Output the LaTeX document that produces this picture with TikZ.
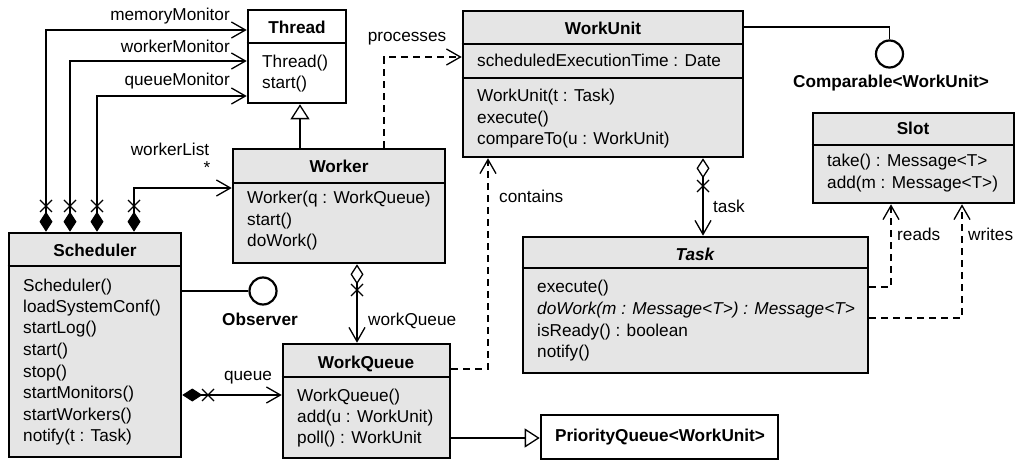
\documentclass[tikz,border=0pt]{standalone}
\usepackage{fontspec}
\setmainfont{Liberation Sans}
\usetikzlibrary{arrows.meta,fit,calc}
\begin{document}
\begin{tikzpicture}[x=1pt,y=-1pt,
  font=\fontsize{17.2}{21.5}\selectfont,
  cls/.style={draw, line width=2.6pt, inner sep=0pt, fill=gray!20},
  wcls/.style={cls, fill=white},
  sep/.style={line width=1.1pt},
  hd/.style={font=\fontsize{17.2}{21.5}\selectfont\bfseries, inner sep=0pt, text height=12pt, text depth=4pt},
  mt/.style={anchor=west, inner sep=0pt, text height=12pt, text depth=4pt},
  lbl/.style={inner sep=0pt, text height=12pt, text depth=4pt},
  conn/.style={line width=1.3pt},
  dsh/.style={conn, dash pattern=on 7pt off 5pt},
  comp/.style={conn, {Diamond[length=20pt,width=13pt]}-{Straight Barb[length=14pt,width=16pt]}},
  aggr/.style={conn, {Diamond[open,length=20pt,width=13pt]}-{Straight Barb[length=14pt,width=16pt]}},
  dep/.style={dsh, -{Straight Barb[length=14pt,width=16pt]}},
  gen/.style={conn, -{Triangle[fill=white,length=15pt,width=19pt]}},
  iface/.style={circle, draw, line width=2.2pt, minimum size=27pt, inner sep=0pt, fill=white},
  xm/.pic={\draw[line width=1.2pt] (-6,-6) -- (6,6) (-6,6) -- (6,-6);}
]
\useasboundingbox (0,0) rectangle (1017,462);

% ---------- class boxes ----------
\node[wcls, fit={(248,10) (346,103)}] (thread) {};
\node[cls, fit={(463,11) (743,157)}] (workunit) {};
\node[cls, fit={(233,149) (445,263)}] (worker) {};
\node[cls, fit={(813,113) (1014,203)}] (slot) {};
\node[cls, fit={(9,233) (181,457)}] (sched) {};
\node[cls, fit={(523,237) (868,373)}] (task) {};
\node[cls, fit={(283,344) (450,458)}] (wq) {};
\node[wcls, fit={(541,415) (778,459)}] (pq) {};

% separators
\draw[sep] (thread.west |- 0,43) -- (thread.east |- 0,43);
\draw[sep] (workunit.west |- 0,44) -- (workunit.east |- 0,44);
\draw[sep] (workunit.west |- 0,78) -- (workunit.east |- 0,78);
\draw[sep] (worker.west |- 0,183) -- (worker.east |- 0,183);
\draw[sep] (slot.west |- 0,145) -- (slot.east |- 0,145);
\draw[sep] (sched.west |- 0,266) -- (sched.east |- 0,266);
\draw[sep] (task.west |- 0,268) -- (task.east |- 0,268);
\draw[sep] (wq.west |- 0,377) -- (wq.east |- 0,377);

% headers
\node[hd] (thread-h) at (297,30) {Thread};
\node[hd] (workunit-h) at (603,31) {WorkUnit};
\node[hd] (worker-h) at (339,169) {Worker};
\node[hd] (slot-h) at (913,131) {Slot};
\node[hd] (sched-h) at (95,253) {Scheduler};
\node[hd, font=\fontsize{17.2}{21.5}\selectfont\bfseries\itshape] (task-h) at (695,257) {Task};
\node[hd] (wq-h) at (366,364) {WorkQueue};
\node[hd] (pq-h) at (660,437) {PriorityQueue<WorkUnit>};

% members
\foreach \t [count=\i from 0] in {Thread(), start()}
  \node[mt] (thread-\i) at (262,64+20.5*\i) {\t};
\node[mt] (workunit-a) at (477,63) {scheduledExecutionTime : Date};
\foreach \t [count=\i from 0] in {WorkUnit(t : Task), execute(), compareTo(u : WorkUnit)}
  \node[mt] (workunit-\i) at (477,98+21.3*\i) {\t};
\foreach \t [count=\i from 0] in {Worker(q : WorkQueue), start(), doWork()}
  \node[mt] (worker-\i) at (247,200+21.3*\i) {\t};
\foreach \t [count=\i from 0] in {take() : Message<T>, add(m : Message<T>)}
  \node[mt] (slot-\i) at (827,163+21.5*\i) {\t};
\foreach \t [count=\i from 0] in {Scheduler(), loadSystemConf(), startLog(), start(), stop(), startMonitors(), startWorkers(), notify(t : Task)}
  \node[mt] (sched-\i) at (23,287+21.5*\i) {\t};
\foreach \t [count=\i from 0] in {execute(), {\itshape doWork(m : Message<T>) : Message<T>}, isReady() : boolean, notify()}
  \node[mt] (task-\i) at (537,289+21.5*\i) {\t};
\foreach \t [count=\i from 0] in {WorkQueue(), add(u : WorkUnit), poll() : WorkUnit}
  \node[mt] (wq-\i) at (297,397+21.3*\i) {\t};

% interfaces
\node[iface] (obs) at (263,291) {};
\node[hd] (obs-l) at (260,321) {Observer};
\node[iface] (cmp) at (889.5,54) {};
\node[hd] (cmp-l) at (891,84) {Comparable<WorkUnit>};

% ---------- connectors ----------
\draw[comp] (sched.north -| 46,0) |- (thread.west |- 0,30);
\draw[comp] (sched.north -| 70,0) |- (thread.west |- 0,61);
\draw[comp] (sched.north -| 97,0) |- (thread.west |- 0,96);
\draw[comp] (sched.north -| 134,0) |- (worker.west |- 0,188);
\pic at (46,206) {xm};
\pic at (70,206) {xm};
\pic at (97,206) {xm};
\pic at (134,206) {xm};
\node[lbl, anchor=east] (l-mem) at (230,17) {memoryMonitor};
\node[lbl, anchor=east] (l-wm) at (230,49) {workerMonitor};
\node[lbl, anchor=east] (l-qm) at (230,82) {queueMonitor};
\node[lbl] (l-wl) at (170,152) {workerList};
\node[lbl] (l-star) at (207,170) {*};

\draw[conn] (sched.east |- obs) -- (obs.west);

\draw[comp] (sched.east |- 0,395) -- (wq.west |- 0,395);
\pic at (208,395) {xm};
\node[lbl] (l-queue) at (248,376) {queue};

\draw[gen] (worker.north -| 300,0) -- (thread.south -| 300,0);

\draw[dep] (worker.north -| 384,0) |- (workunit.west |- 0,57);
\node[lbl] (l-proc) at (407,38) {processes};

\draw[aggr] (worker.south -| 357,0) -- (wq.north -| 357,0);
\pic at (357,290) {xm};
\node[lbl, anchor=west] (l-wq) at (368,321) {workQueue};

\draw[dep] (wq.east |- 0,369) -| (workunit.south -| 488,0);
\node[lbl, anchor=west] (l-cont) at (499,199) {contains};

\draw[conn] (workunit.east |- 0,27) -| (cmp.north);

\draw[aggr] (workunit.south -| 703,0) -- (task.north -| 703,0);
\pic at (703,186) {xm};
\node[lbl, anchor=west] (l-task) at (713,209) {task};

\draw[dep] (task.east |- 0,287) -| (slot.south -| 891,0);
\node[lbl, anchor=west] (l-reads) at (897,237) {reads};
\draw[dep] (task.east |- 0,318) -| (slot.south -| 962,0);
\node[lbl, anchor=west] (l-writes) at (968,237) {writes};

\draw[gen] (wq.east |- 0,438) -- (pq.west |- 0,438);
\end{tikzpicture}
\end{document}
